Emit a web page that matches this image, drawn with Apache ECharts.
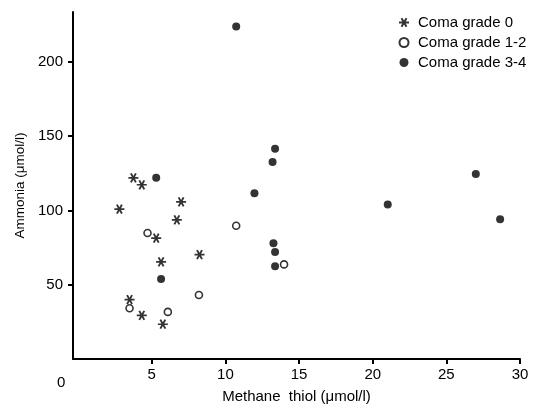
<!DOCTYPE html>
<html>
<head>
<meta charset="utf-8">
<script src="https://cdn.jsdelivr.net/npm/echarts@6/dist/echarts.min.js"></script>
<style>html,body{margin:0;padding:0;background:#fff}#c{width:535px;height:409px}</style>
</head>
<body>
<div id="c"></div>
<script>
// Coma grade 0 (asterisks): [methane thiol, ammonia]
var grade0 = [[3.75,122],[4.32,117.3],[6.99,105.8],[2.80,100.9],[6.70,93.6],[5.30,81.4],[8.24,70.3],[5.63,65.4],[3.49,40.0],[4.32,29.4],[5.75,23.4]];
// Coma grade 1-2 (open circles)
var grade12 = [[4.71,84.8],[8.20,43.1],[3.49,34.2],[6.09,31.7],[10.73,89.7],[13.98,63.7]];
// Coma grade 3-4 (filled circles)
var grade34 = [[5.30,122.1],[5.63,53.9],[10.73,223.8],[11.97,111.5],[13.37,141.5],[13.2,132.7],[13.26,78.0],[13.37,72.0],[13.37,62.5],[21.02,104.0],[27.0,124.5],[28.65,94.1]];
var seriesNames = ['Coma grade 0','Coma grade 1-2','Coma grade 3-4'];
var xTicks = [5,10,15,20,25,30];
var yTicks = [50,100,150,200];
var xName = 'Methane  thiol (\u03bcmol/l)';
var yName = 'Ammonia (\u03bcmol/l)';
var originLabel = '0';

var FONT = 'Liberation Sans';
var asterisk = 'path://M-5,0L5,0M-2.5,-4.33L2.5,4.33M-2.5,4.33L2.5,-4.33';
var chart = echarts.init(document.getElementById('c'), null, {renderer:'canvas'});
var axisCommon = {
  axisLine:{show:true, onZero:false, lineStyle:{color:'#000', width:2}},
  axisTick:{show:true, inside:false, length:5, lineStyle:{color:'#000', width:2}},
  splitLine:{show:false},
  axisLabel:{color:'#000', fontFamily:FONT, fontSize:15},
  nameTextStyle:{color:'#000', fontFamily:FONT}
};
chart.setOption({
  animation:false,
  backgroundColor:'#fff',
  grid:{left:73, right:15, top:12, bottom:44, containLabel:false},
  xAxis: echarts.util.merge({
    type:'value', min:-0.35, max:30,
    name:xName, nameLocation:'middle', nameGap:30,
    nameTextStyle:{fontSize:15},
    axisTick:{customValues:xTicks},
    axisLabel:{customValues:xTicks, margin:8}
  }, axisCommon),
  yAxis: echarts.util.merge({
    type:'value', min:0, max:233.6,
    name:yName, nameLocation:'middle', nameGap:46,
    nameTextStyle:{fontSize:13.5},
    axisTick:{customValues:yTicks},
    axisLabel:{customValues:yTicks, margin:10}
  }, axisCommon),
  legend:{
    orient:'vertical', left:393, top:10, itemWidth:10, itemHeight:9, itemGap:5,
    textStyle:{color:'#000', fontFamily:FONT, fontSize:15, padding:[0,0,0,4]},
    data:seriesNames
  },
  graphic:[{type:'text', left:57, top:375, style:{text:originLabel, fill:'#000', font:'15px ' + FONT}}],
  series:[
    {name:seriesNames[0], type:'scatter', data:grade0, symbol:asterisk, symbolSize:[10,9],
     itemStyle:{color:'#000', borderColor:'#000', borderWidth:1.8}},
    {name:seriesNames[1], type:'scatter', data:grade12, symbol:'circle', symbolSize:7,
     itemStyle:{color:'#fff', borderColor:'#000', borderWidth:1.6}},
    {name:seriesNames[2], type:'scatter', data:grade34, symbol:'circle', symbolSize:8,
     itemStyle:{color:'#000', borderColor:'#000', borderWidth:0}}
  ]
});
</script>
</body>
</html>
